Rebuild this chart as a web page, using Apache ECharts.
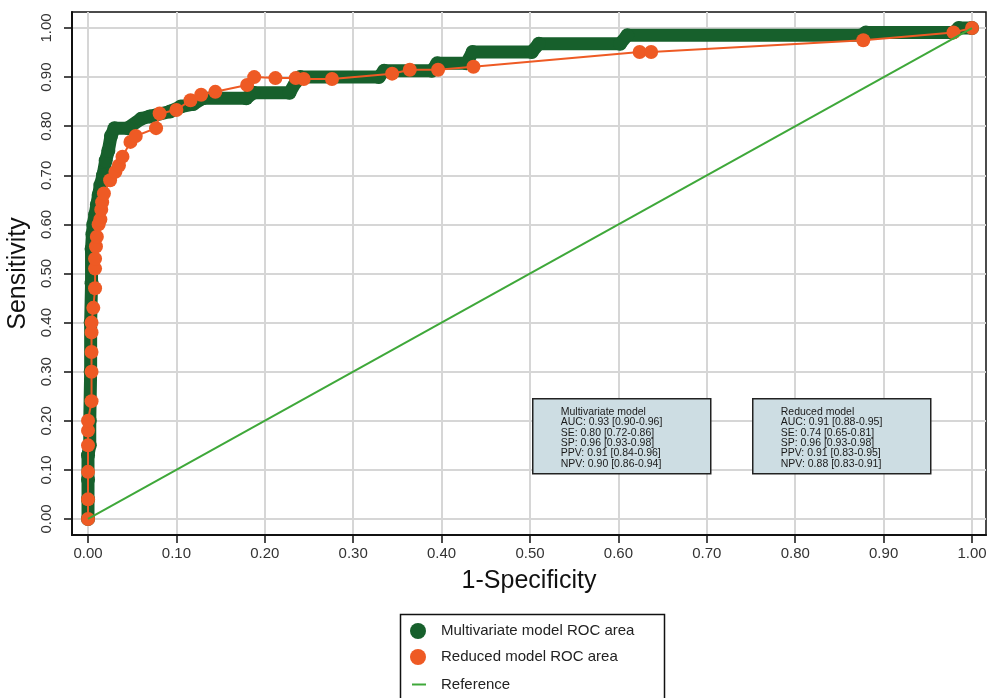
<!DOCTYPE html>
<html><head><meta charset="utf-8">
<script src="https://cdn.jsdelivr.net/npm/echarts@6/dist/echarts.min.js"></script>
<style>html,body{margin:0;padding:0;background:#fff}#c{width:987px;height:698px}</style>
</head><body><div id="c"></div>
<script>
// ---- data ----
const seriesNames = ['Multivariate model ROC area', 'Reduced model ROC area', 'Reference'];
const tickValues = [0, 0.1, 0.2, 0.3, 0.4, 0.5, 0.6, 0.7, 0.8, 0.9, 1.0];

const multiFpr = [0, 0, 0, 0, 0.002, 0.002, 0.003, 0.003, 0.004, 0.004, 0.005, 0.006, 0.008, 0.010, 0.012, 0.014, 0.017, 0.020, 0.023, 0.026, 0.030, 0.045, 0.060, 0.070, 0.093, 0.105, 0.119, 0.130, 0.179, 0.187, 0.228, 0.235, 0.240, 0.329, 0.335, 0.389, 0.395, 0.428, 0.435, 0.502, 0.510, 0.602, 0.610, 0.875, 0.880, 0.979, 0.985, 1.0];
const multiTpr = [0, 0.04, 0.08, 0.13, 0.15, 0.20, 0.30, 0.40, 0.48, 0.55, 0.58, 0.60, 0.62, 0.64, 0.66, 0.68, 0.70, 0.73, 0.75, 0.78, 0.796, 0.796, 0.815, 0.820, 0.830, 0.840, 0.845, 0.857, 0.857, 0.868, 0.868, 0.890, 0.900, 0.900, 0.913, 0.913, 0.928, 0.928, 0.951, 0.951, 0.968, 0.968, 0.985, 0.985, 0.991, 0.991, 1.0, 1.0];

const reducedFpr = [0, 0, 0, 0, 0, 0, 0.004, 0.004, 0.004, 0.004, 0.004, 0.006, 0.008, 0.008, 0.008, 0.009, 0.010, 0.012, 0.014, 0.015, 0.016, 0.018, 0.025, 0.031, 0.035, 0.039, 0.048, 0.054, 0.077, 0.081, 0.100, 0.116, 0.128, 0.144, 0.180, 0.188, 0.212, 0.235, 0.244, 0.276, 0.344, 0.364, 0.396, 0.436, 0.624, 0.637, 0.877, 0.979, 1.0];
const reducedTpr = [0, 0.04, 0.096, 0.15, 0.18, 0.20, 0.24, 0.30, 0.34, 0.38, 0.40, 0.43, 0.47, 0.51, 0.53, 0.555, 0.575, 0.60, 0.61, 0.63, 0.645, 0.663, 0.69, 0.707, 0.72, 0.738, 0.768, 0.78, 0.796, 0.826, 0.833, 0.853, 0.864, 0.87, 0.884, 0.90, 0.898, 0.898, 0.896, 0.896, 0.907, 0.915, 0.915, 0.921, 0.951, 0.951, 0.975, 0.991, 1.0];

const referenceFpr = [0, 1];
const referenceTpr = [0, 1];

const multiStats = ['Multivariate model', 'AUC: 0.93 [0.90-0.96]', 'SE: 0.80 [0.72-0.86]', 'SP: 0.96 [0.93-0.98]', 'PPV: 0.91 [0.84-0.96]', 'NPV: 0.90 [0.86-0.94]'];
const reducedStats = ['Reduced model', 'AUC: 0.91 [0.88-0.95]', 'SE: 0.74 [0.65-0.81]', 'SP: 0.96 [0.93-0.98]', 'PPV: 0.91 [0.83-0.95]', 'NPV: 0.88 [0.83-0.91]'];

// ---- chart ----
const pair = (xs, ys) => xs.map((x, i) => [x, ys[i]]);
const FONT = 'Liberation Sans, Arial, sans-serif';
const chart = echarts.init(document.getElementById('c'), null, {renderer: 'canvas'});

function statBox(x, y, lines) {
  return {
    type: 'group', left: x, top: y, silent: true, z: 100,
    children: [
      {type: 'rect', z: 100, shape: {x: 0, y: 0, width: 178, height: 75},
       style: {fill: '#cddde3', stroke: '#222', lineWidth: 1.5}},
      {type: 'text', z: 101, x: 28, y: 8,
       style: {text: lines.join('\n'), font: '10.5px ' + FONT, lineHeight: 10.4, fill: '#1a1a1a'}}
    ]
  };
}

const legendCommon = {
  orient: 'vertical', itemGap: 10,
  textStyle: {fontSize: 15, fontFamily: FONT, color: '#222'},
  selectedMode: false
};

chart.setOption({
  animation: false,
  backgroundColor: '#fff',
  grid: {left: 72, top: 12, right: 1, bottom: 163, show: true, borderColor: '#111', borderWidth: 1.5, containLabel: false, outerBoundsMode: 'none'},
  xAxis: {
    type: 'value', min: -0.0181, max: 1.0158,
    name: '1-Specificity', nameLocation: 'middle', nameGap: 34,
    nameTextStyle: {fontSize: 25, fontFamily: FONT, color: '#111'},
    axisLine: {show: true, onZero: false, lineStyle: {color: '#111', width: 2}},
    axisTick: {show: true, length: 8, lineStyle: {color: '#111', width: 1.5}, customValues: tickValues},
    axisLabel: {customValues: tickValues, formatter: v => v.toFixed(2), fontSize: 15, fontFamily: FONT, color: '#333', margin: 11},
    splitLine: {show: true, lineStyle: {color: '#d6d6d6', width: 2}}
  },
  yAxis: {
    type: 'value', min: -0.0326, max: 1.0326,
    name: 'Sensitivity', nameLocation: 'middle', nameGap: 31, nameRotate: 90,
    nameTextStyle: {fontSize: 25, fontFamily: FONT, color: '#111'},
    axisLine: {show: true, onZero: false, lineStyle: {color: '#111', width: 2}},
    axisTick: {show: true, length: 8, lineStyle: {color: '#111', width: 1.5}, customValues: tickValues},
    axisLabel: {customValues: tickValues, formatter: v => v.toFixed(2), fontSize: 15, fontFamily: FONT, color: '#333', rotate: 90, margin: 18},
    splitLine: {show: true, lineStyle: {color: '#d6d6d6', width: 2}}
  },
  legend: [
    Object.assign({}, legendCommon, {top: 618, left: 405, data: [{name: seriesNames[0], icon: 'circle'}, {name: seriesNames[1], icon: 'circle'}], itemWidth: 32, itemHeight: 16,
      textStyle: {fontSize: 15, fontFamily: FONT, color: '#222', padding: [0, 0, 0, 2]}}),
    Object.assign({}, legendCommon, {top: 672, left: 407, data: [{name: seriesNames[2], icon: 'rect'}], itemWidth: 14, itemHeight: 2,
      textStyle: {fontSize: 15, fontFamily: FONT, color: '#222', padding: [0, 0, 0, 10]}})
  ],
  graphic: [
    {type: 'rect', left: 398, top: 612, silent: true, shape: {x: 0, y: 0, width: 264, height: 100},
     style: {fill: 'none', stroke: '#111', lineWidth: 1.5}, z: -1},
    statBox(532, 398, multiStats),
    statBox(752, 398, reducedStats)
  ],
  series: [
    {
      name: seriesNames[0], type: 'line', data: pair(multiFpr, multiTpr),
      symbol: 'circle', symbolSize: 14, showAllSymbol: true,
      itemStyle: {color: '#17602c'},
      lineStyle: {color: '#17602c', width: 13, cap: 'round', join: 'round'},
      z: 2
    },
    {
      name: seriesNames[1], type: 'line', data: pair(reducedFpr, reducedTpr),
      symbol: 'circle', symbolSize: 14, showAllSymbol: true,
      itemStyle: {color: '#ee5a24'},
      lineStyle: {color: '#ee5a24', width: 2},
      z: 3
    },
    {
      name: seriesNames[2], type: 'line', data: pair(referenceFpr, referenceTpr),
      symbol: 'none',
      itemStyle: {color: '#3fa83a'},
      lineStyle: {color: '#3fa83a', width: 2},
      z: 4
    }
  ]
});
</script></body></html>
